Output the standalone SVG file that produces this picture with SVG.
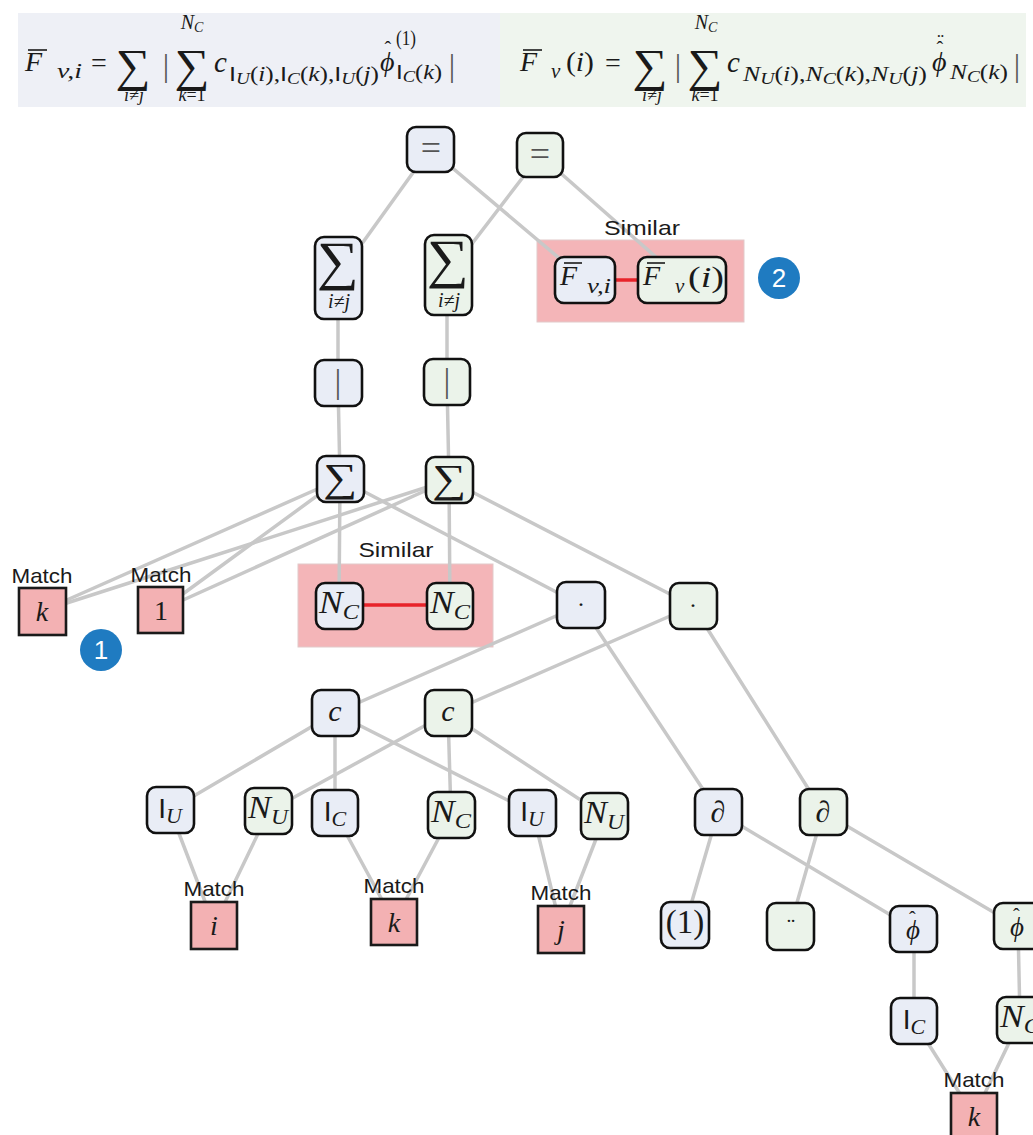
<svg xmlns="http://www.w3.org/2000/svg" width="1033" height="1135" viewBox="0 0 1033 1135">
<style>
.edge{stroke:#c8c8c8;stroke-width:3.5;fill:none;stroke-linecap:round}
.sim{stroke:#e8232a;stroke-width:3.5}
.nb rect{fill:#e9edf6;stroke:#111;stroke-width:2.6}
.ng rect{fill:#ebf3ea;stroke:#111;stroke-width:2.6}
.m rect{fill:#f3b1b3;stroke:#1a1a1a;stroke-width:2.6}
.simbox{fill:#f4b5b8;stroke:#e2c9ca;stroke-width:1}
.lbl{font-family:"Liberation Sans",Arial,sans-serif;font-size:21px;fill:#1a1a1a;text-anchor:middle}
.mt{font-family:"Liberation Serif","DejaVu Serif",serif;fill:#1a1a1a;text-anchor:middle}
.st{text-anchor:start}
.it{font-style:italic}
.up{font-style:normal}
.sf{font-family:"Liberation Sans","DejaVu Sans",sans-serif;font-style:normal}
.ol{stroke:#1a1a1a;stroke-width:1.6}
.gr{fill:#555}
.badge circle{fill:#1f7bc1}
.badge text{font-family:"Liberation Sans",Arial,sans-serif;font-size:26px;fill:#fff;text-anchor:middle}
</style>

<!-- formula bar -->
<g id="formula-left">
<rect x="18" y="13" width="482" height="94" fill="#eef0f6"/>
<line class="ol" x1="28" y1="50" x2="47" y2="50"/>
<text class="mt it st" x="25" y="71" font-size="28">F</text>
<text class="mt it st" x="57" y="78" font-size="21" textLength="25" lengthAdjust="spacingAndGlyphs">v,i</text>
<text class="mt" x="99" y="72" font-size="28">=</text>
<text class="mt" x="133" y="81" font-size="46" textLength="35" lengthAdjust="spacingAndGlyphs">∑</text>
<text class="mt it" x="134" y="101" font-size="18">i≠j</text>
<text class="mt gr" x="166" y="76" font-size="32">|</text>
<text class="mt" x="192" y="81" font-size="46" textLength="35" lengthAdjust="spacingAndGlyphs">∑</text>
<text class="mt it" x="192" y="29" font-size="20">N<tspan font-size="14" dy="3">C</tspan></text>
<text class="mt it" x="192" y="101" font-size="18">k<tspan class="up">=1</tspan></text>
<text class="mt it st" x="214" y="72" font-size="29">c</text>
<text class="mt st" x="229" y="81" font-size="21" textLength="150" lengthAdjust="spacingAndGlyphs"><tspan class="sf">I</tspan><tspan class="it" font-size="16" dy="3">U</tspan><tspan dy="-3">(</tspan><tspan class="it">i</tspan>),<tspan class="sf">I</tspan><tspan class="it" font-size="16" dy="3">C</tspan><tspan dy="-3">(</tspan><tspan class="it">k</tspan>),<tspan class="sf">I</tspan><tspan class="it" font-size="16" dy="3">U</tspan><tspan dy="-3">(</tspan><tspan class="it">j</tspan>)</text>
<text class="mt it st" x="380" y="71" font-size="28">ϕ<tspan class="up" font-size="20" dx="-10" dy="-15">ˆ</tspan></text>
<text class="mt st" x="396" y="45" font-size="20" textLength="20" lengthAdjust="spacingAndGlyphs">(1)</text>
<text class="mt st" x="396" y="79" font-size="21" textLength="46" lengthAdjust="spacingAndGlyphs"><tspan class="sf">I</tspan><tspan class="it" font-size="16" dy="3">C</tspan><tspan dy="-3">(</tspan><tspan class="it">k</tspan>)</text>
<text class="mt gr" x="452" y="76" font-size="32">|</text>
</g>
<g id="formula-right">
<rect x="500" y="13" width="526" height="94" fill="#eff5ee"/>
<line class="ol" x1="523" y1="50" x2="542" y2="50"/>
<text class="mt it st" x="520" y="71" font-size="28">F</text>
<text class="mt it st" x="551" y="78" font-size="21">v</text>
<text class="mt st" x="566" y="71" font-size="28" textLength="28" lengthAdjust="spacingAndGlyphs">(<tspan class="it">i</tspan>)</text>
<text class="mt" x="613" y="72" font-size="28">=</text>
<text class="mt" x="650" y="81" font-size="46" textLength="35" lengthAdjust="spacingAndGlyphs">∑</text>
<text class="mt it" x="652" y="101" font-size="18">i≠j</text>
<text class="mt gr" x="678" y="76" font-size="32">|</text>
<text class="mt" x="705" y="81" font-size="46" textLength="35" lengthAdjust="spacingAndGlyphs">∑</text>
<text class="mt it" x="706" y="29" font-size="20">N<tspan font-size="14" dy="3">C</tspan></text>
<text class="mt it" x="705" y="101" font-size="18">k<tspan class="up">=1</tspan></text>
<text class="mt it st" x="727" y="72" font-size="29">c</text>
<text class="mt it st" x="743" y="81" font-size="21" textLength="184" lengthAdjust="spacingAndGlyphs">N<tspan font-size="16" dy="3">U</tspan><tspan class="up" dy="-3">(</tspan>i<tspan class="up">),</tspan>N<tspan font-size="16" dy="3">C</tspan><tspan class="up" dy="-3">(</tspan>k<tspan class="up">),</tspan>N<tspan font-size="16" dy="3">U</tspan><tspan class="up" dy="-3">(</tspan>j<tspan class="up">)</tspan></text>
<text class="mt it st" x="932" y="71" font-size="28">ϕ<tspan class="up" font-size="20" dx="-10" dy="-15">ˆ</tspan><tspan class="up" font-size="20" dx="-6" dy="-8">¨</tspan></text>
<text class="mt it st" x="950" y="79" font-size="21" textLength="58" lengthAdjust="spacingAndGlyphs">N<tspan font-size="16" dy="3">C</tspan><tspan class="up" dy="-3">(</tspan>k<tspan class="up">)</tspan></text>
<text class="mt gr" x="1017" y="76" font-size="32">|</text>
</g>

<!-- similarity boxes -->
<g id="similar-top">
<rect class="simbox" x="537" y="240" width="207" height="82"/>
</g>
<g id="similar-mid">
<rect class="simbox" x="298" y="564" width="195" height="83"/>
</g>

<!-- connectors -->
<g id="connectors">
<line class="edge" x1="430" y1="149" x2="338" y2="277"/>
<line class="edge" x1="430" y1="149" x2="585" y2="280"/>
<line class="edge" x1="540" y1="155" x2="448" y2="275"/>
<line class="edge" x1="540" y1="155" x2="682" y2="280"/>
<line class="edge" x1="338" y1="277" x2="338" y2="383"/>
<line class="edge" x1="447" y1="275" x2="447" y2="382"/>
<line class="edge" x1="338" y1="383" x2="340" y2="479"/>
<line class="edge" x1="447" y1="382" x2="449" y2="480"/>
<line class="edge" x1="340" y1="479" x2="42" y2="611"/>
<line class="edge" x1="340" y1="479" x2="161" y2="610"/>
<line class="edge" x1="340" y1="479" x2="339" y2="606"/>
<line class="edge" x1="340" y1="479" x2="581" y2="605"/>
<line class="edge" x1="449" y1="480" x2="42" y2="611"/>
<line class="edge" x1="449" y1="480" x2="161" y2="610"/>
<line class="edge" x1="449" y1="480" x2="450" y2="606"/>
<line class="edge" x1="449" y1="480" x2="693" y2="606"/>
<line class="edge" x1="581" y1="605" x2="335" y2="713"/>
<line class="edge" x1="581" y1="605" x2="718" y2="812"/>
<line class="edge" x1="693" y1="606" x2="448" y2="713"/>
<line class="edge" x1="693" y1="606" x2="823" y2="812"/>
<line class="edge" x1="335" y1="713" x2="170" y2="810"/>
<line class="edge" x1="335" y1="713" x2="335" y2="813"/>
<line class="edge" x1="335" y1="713" x2="533" y2="813"/>
<line class="edge" x1="448" y1="713" x2="269" y2="811"/>
<line class="edge" x1="448" y1="713" x2="451" y2="815"/>
<line class="edge" x1="448" y1="713" x2="605" y2="816"/>
<line class="edge" x1="170" y1="810" x2="214" y2="925"/>
<line class="edge" x1="269" y1="811" x2="214" y2="925"/>
<line class="edge" x1="335" y1="813" x2="394" y2="922"/>
<line class="edge" x1="451" y1="815" x2="394" y2="922"/>
<line class="edge" x1="533" y1="813" x2="561" y2="929"/>
<line class="edge" x1="605" y1="816" x2="561" y2="929"/>
<line class="edge" x1="718" y1="812" x2="685" y2="925"/>
<line class="edge" x1="718" y1="812" x2="914" y2="929"/>
<line class="edge" x1="823" y1="812" x2="790" y2="927"/>
<line class="edge" x1="823" y1="812" x2="1017" y2="926"/>
<line class="edge" x1="914" y1="929" x2="914" y2="1021"/>
<line class="edge" x1="1018" y1="926" x2="1020" y2="1020"/>
<line class="edge" x1="914" y1="1021" x2="974" y2="1116"/>
<line class="edge" x1="1020" y1="1020" x2="974" y2="1116"/>
<line class="sim" x1="614" y1="280" x2="639" y2="280"/>
<line class="sim" x1="362" y1="605" x2="428" y2="605"/>
</g>

<text class="lbl" x="642" y="235" textLength="76" lengthAdjust="spacingAndGlyphs">Similar</text>
<text class="lbl" x="396" y="557" textLength="75" lengthAdjust="spacingAndGlyphs">Similar</text>

<!-- nodes -->
<g id="n-eq1" class="nb"><rect x="407" y="127" width="47" height="45" rx="9"/><text class="mt gr" x="431" y="160" font-size="36">=</text></g>
<g id="n-eq2" class="ng"><rect x="517" y="133" width="46" height="44" rx="9"/><text class="mt gr" x="540" y="166" font-size="36">=</text></g>
<g id="n-sum1" class="nb"><rect x="315" y="237" width="47" height="82" rx="9"/><text class="mt" x="338" y="279" font-size="54" textLength="42" lengthAdjust="spacingAndGlyphs">∑</text><text class="mt it" x="339" y="308" font-size="20">i≠j</text></g>
<g id="n-sum2" class="ng"><rect x="425" y="235" width="47" height="80" rx="9"/><text class="mt" x="448" y="277" font-size="54" textLength="42" lengthAdjust="spacingAndGlyphs">∑</text><text class="mt it" x="449" y="307" font-size="20">i≠j</text></g>
<g id="n-fvi" class="nb"><rect x="555" y="257" width="60" height="46" rx="9"/><line class="ol" x1="564" y1="263" x2="582" y2="263"/><text class="mt it st" x="560" y="285" font-size="28">F</text><text class="mt it st" x="587" y="293" font-size="21" textLength="24" lengthAdjust="spacingAndGlyphs">v,i</text></g>
<g id="n-fvi2" class="ng"><rect x="638" y="257" width="88" height="46" rx="9"/><line class="ol" x1="647" y1="263" x2="665" y2="263"/><text class="mt it st" x="643" y="285" font-size="28">F</text><text class="mt it st" x="675" y="293" font-size="21">v</text><text class="mt st" x="688" y="287" font-size="30" textLength="36" lengthAdjust="spacingAndGlyphs">(<tspan class="it">i</tspan>)</text></g>
<g id="n-bar1" class="nb"><rect x="315" y="360" width="47" height="46" rx="9"/><text class="mt gr" x="338" y="393" font-size="34">|</text></g>
<g id="n-bar2" class="ng"><rect x="424" y="359" width="46" height="46" rx="9"/><text class="mt gr" x="447" y="392" font-size="34">|</text></g>
<g id="n-s1" class="nb"><rect x="317" y="456" width="47" height="46" rx="9"/><text class="mt" x="340" y="491" font-size="40" textLength="34" lengthAdjust="spacingAndGlyphs">∑</text></g>
<g id="n-s2" class="ng"><rect x="426" y="457" width="47" height="46" rx="9"/><text class="mt" x="449" y="492" font-size="40" textLength="34" lengthAdjust="spacingAndGlyphs">∑</text></g>
<g id="n-nc1" class="nb"><rect x="316" y="583" width="47" height="46" rx="9"/><text class="mt it" x="339" y="613" font-size="32" textLength="40" lengthAdjust="spacingAndGlyphs">N<tspan font-size="22" dy="6">C</tspan></text></g>
<g id="n-nc2" class="ng"><rect x="427" y="583" width="46" height="46" rx="9"/><text class="mt it" x="450" y="613" font-size="32" textLength="40" lengthAdjust="spacingAndGlyphs">N<tspan font-size="22" dy="6">C</tspan></text></g>
<g id="n-dot1" class="nb"><rect x="557" y="582" width="48" height="46" rx="9"/><text class="mt" x="581" y="612" font-size="24">·</text></g>
<g id="n-dot2" class="ng"><rect x="670" y="583" width="47" height="46" rx="9"/><text class="mt" x="693" y="613" font-size="24">·</text></g>
<g id="n-c1" class="nb"><rect x="312" y="690" width="47" height="46" rx="9"/><text class="mt it" x="335" y="721" font-size="30">c</text></g>
<g id="n-c2" class="ng"><rect x="425" y="690" width="47" height="46" rx="9"/><text class="mt it" x="448" y="721" font-size="30">c</text></g>
<g id="n-iu1" class="nb"><rect x="147" y="787" width="47" height="46" rx="9"/><text class="mt" x="170" y="818" font-size="28"><tspan class="sf">I</tspan><tspan class="it" font-size="22" dy="5">U</tspan></text></g>
<g id="n-nu1" class="ng"><rect x="245" y="788" width="47" height="46" rx="9"/><text class="mt it" x="268" y="818" font-size="32" textLength="40" lengthAdjust="spacingAndGlyphs">N<tspan font-size="22" dy="6">U</tspan></text></g>
<g id="n-ic1" class="nb"><rect x="312" y="790" width="46" height="46" rx="9"/><text class="mt" x="335" y="821" font-size="28"><tspan class="sf">I</tspan><tspan class="it" font-size="22" dy="5">C</tspan></text></g>
<g id="n-nc3" class="ng"><rect x="428" y="792" width="47" height="46" rx="9"/><text class="mt it" x="451" y="822" font-size="32" textLength="40" lengthAdjust="spacingAndGlyphs">N<tspan font-size="22" dy="6">C</tspan></text></g>
<g id="n-iu2" class="nb"><rect x="509" y="790" width="47" height="46" rx="9"/><text class="mt" x="532" y="821" font-size="28"><tspan class="sf">I</tspan><tspan class="it" font-size="22" dy="5">U</tspan></text></g>
<g id="n-nu2" class="ng"><rect x="581" y="793" width="47" height="46" rx="9"/><text class="mt it" x="604" y="823" font-size="32" textLength="40" lengthAdjust="spacingAndGlyphs">N<tspan font-size="22" dy="6">U</tspan></text></g>
<g id="n-d1" class="nb"><rect x="695" y="789" width="47" height="46" rx="9"/><text class="mt it" x="718" y="822" font-size="30">∂</text></g>
<g id="n-d2" class="ng"><rect x="800" y="789" width="47" height="46" rx="9"/><text class="mt it" x="823" y="822" font-size="30">∂</text></g>
<g id="n-one" class="nb"><rect x="661" y="902" width="48" height="46" rx="9"/><text class="mt" x="685" y="933" font-size="33">(1)</text></g>
<g id="n-dd" class="ng"><rect x="767" y="903" width="47" height="47" rx="9"/><text class="mt" x="791" y="934" font-size="24">¨</text></g>
<g id="n-phi1" class="nb"><rect x="890" y="906" width="47" height="46" rx="9"/><text class="mt it st" x="906" y="939" font-size="27">ϕ<tspan class="up" font-size="20" dx="-11" dy="-13">ˆ</tspan></text></g>
<g id="n-phi2" class="ng"><rect x="994" y="903" width="47" height="46" rx="9"/><text class="mt it st" x="1010" y="936" font-size="27">ϕ<tspan class="up" font-size="20" dx="-11" dy="-13">ˆ</tspan></text></g>
<g id="n-ic2" class="nb"><rect x="891" y="998" width="46" height="46" rx="9"/><text class="mt" x="914" y="1029" font-size="28"><tspan class="sf">I</tspan><tspan class="it" font-size="22" dy="5">C</tspan></text></g>
<g id="n-nc4" class="ng"><rect x="997" y="997" width="47" height="46" rx="9"/><text class="mt it" x="1020" y="1027" font-size="32" textLength="40" lengthAdjust="spacingAndGlyphs">N<tspan font-size="22" dy="6">C</tspan></text></g>

<!-- match nodes -->
<g id="m-k1" class="m"><text class="lbl" x="42" y="583" textLength="61" lengthAdjust="spacingAndGlyphs">Match</text><rect x="19" y="588" width="47" height="47"/><text class="mt it" x="42" y="621" font-size="28">k</text></g>
<g id="m-1" class="m"><text class="lbl" x="161" y="582" textLength="61" lengthAdjust="spacingAndGlyphs">Match</text><rect x="138" y="587" width="45" height="46"/><text class="mt" x="161" y="620" font-size="28">1</text></g>
<g id="m-i" class="m"><text class="lbl" x="214" y="896" textLength="61" lengthAdjust="spacingAndGlyphs">Match</text><rect x="191" y="902" width="46" height="47"/><text class="mt it" x="214" y="935" font-size="28">i</text></g>
<g id="m-k2" class="m"><text class="lbl" x="394" y="893" textLength="61" lengthAdjust="spacingAndGlyphs">Match</text><rect x="371" y="899" width="46" height="46"/><text class="mt it" x="394" y="932" font-size="28">k</text></g>
<g id="m-j" class="m"><text class="lbl" x="561" y="900" textLength="61" lengthAdjust="spacingAndGlyphs">Match</text><rect x="538" y="906" width="46" height="47"/><text class="mt it" x="561" y="939" font-size="28">j</text></g>
<g id="m-k3" class="m"><text class="lbl" x="974" y="1087" textLength="61" lengthAdjust="spacingAndGlyphs">Match</text><rect x="951" y="1093" width="46" height="47"/><text class="mt it" x="974" y="1126" font-size="28">k</text></g>

<!-- badges -->
<g id="badge-1" class="badge"><circle cx="101" cy="650" r="21"/><text x="101" y="659">1</text></g>
<g id="badge-2" class="badge"><circle cx="779" cy="278" r="21"/><text x="779" y="287">2</text></g>
</svg>
